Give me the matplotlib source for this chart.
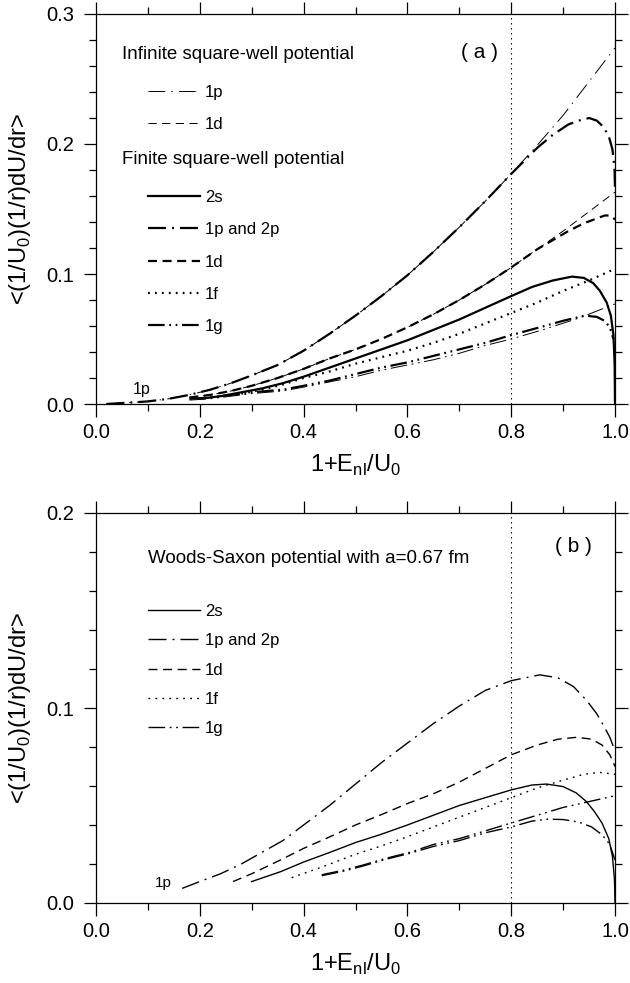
## two panels: <(1/U0)(1/r)dU/dr> vs 1+E_nl/U0 for square-well and Woods-Saxon potentials

import matplotlib
matplotlib.use('Agg')
import matplotlib.pyplot as plt
from matplotlib.ticker import MultipleLocator, FormatStrFormatter

plt.rcParams['font.family'] = ['Liberation Sans', 'DejaVu Sans']
plt.rcParams['mathtext.fontset'] = 'custom'
plt.rcParams['mathtext.rm'] = 'Liberation Sans'
plt.rcParams['lines.scale_dashes'] = False

# ---- panel (a): infinite square well (thin) ----
inf_1p_x = [0.02, 0.06, 0.10, 0.14, 0.18, 0.22, 0.26, 0.30, 0.35, 0.40, 0.45, 0.50, 0.55, 0.60, 0.65,
	0.70, 0.75, 0.80, 0.85, 0.90, 0.95, 1.00]
inf_1p_y = [0.0, 0.001, 0.002, 0.004, 0.007, 0.011, 0.016, 0.022, 0.030, 0.041, 0.054, 0.068, 0.083,
	0.099, 0.117, 0.136, 0.156, 0.177, 0.199, 0.222, 0.248, 0.274]
inf_1d_x = [0.18, 0.22, 0.26, 0.30, 0.35, 0.40, 0.45, 0.50, 0.55, 0.60, 0.65, 0.70, 0.75, 0.80, 0.85,
	0.90, 0.95, 1.00]
inf_1d_y = [0.005, 0.007, 0.010, 0.014, 0.020, 0.027, 0.035, 0.042, 0.050, 0.059, 0.069, 0.080, 0.092,
	0.105, 0.119, 0.133, 0.148, 0.163]
inf_1g_x = [0.18, 0.22, 0.26, 0.30, 0.36, 0.40, 0.45, 0.50, 0.55, 0.60, 0.65, 0.70, 0.75, 0.80, 0.86,
	0.93, 1.00]
inf_1g_y = [0.003, 0.004, 0.006, 0.008, 0.010, 0.013, 0.017, 0.021, 0.026, 0.030, 0.034, 0.039, 0.045,
	0.050, 0.057, 0.066, 0.077]

# ---- panel (a): finite square well (thick) ----
fin_2s_x = [0.20, 0.24, 0.28, 0.32, 0.36, 0.40, 0.45, 0.50, 0.55, 0.60, 0.65, 0.70, 0.75, 0.80, 0.84,
	0.88, 0.917, 0.94, 0.958, 0.971, 0.984, 0.992, 0.997, 0.9993, 1.0]
fin_2s_y = [0.004, 0.006, 0.009, 0.012, 0.016, 0.021, 0.028, 0.035, 0.042, 0.049, 0.057, 0.065, 0.074,
	0.083, 0.090, 0.095, 0.098, 0.097, 0.093, 0.087, 0.078, 0.068, 0.053, 0.03, 0.0]
fin_1p_x = [0.02, 0.06, 0.10, 0.14, 0.18, 0.22, 0.26, 0.30, 0.35, 0.40, 0.45, 0.50, 0.55, 0.60, 0.65,
	0.70, 0.75, 0.80, 0.85, 0.88, 0.91, 0.93, 0.95, 0.965, 0.978, 0.988, 0.995, 0.999, 1.0]
fin_1p_y = [0.0, 0.001, 0.002, 0.004, 0.007, 0.011, 0.016, 0.022, 0.030, 0.041, 0.054, 0.068, 0.083,
	0.099, 0.117, 0.136, 0.156, 0.177, 0.197, 0.207, 0.215, 0.218, 0.220, 0.218, 0.213, 0.206, 0.196,
	0.182, 0.165]
fin_1d_x = [0.18, 0.22, 0.26, 0.30, 0.35, 0.40, 0.45, 0.50, 0.55, 0.60, 0.65, 0.70, 0.75, 0.80, 0.85,
	0.88, 0.91, 0.94, 0.96, 0.98, 0.99, 1.0]
fin_1d_y = [0.005, 0.007, 0.010, 0.014, 0.020, 0.027, 0.035, 0.042, 0.050, 0.059, 0.069, 0.080, 0.092,
	0.105, 0.119, 0.126, 0.133, 0.139, 0.142, 0.145, 0.145, 0.142]
fin_1f_x = [0.28, 0.32, 0.36, 0.40, 0.45, 0.50, 0.55, 0.60, 0.65, 0.70, 0.75, 0.80, 0.85, 0.90, 0.95, 1.00]
fin_1f_y = [0.008, 0.011, 0.015, 0.020, 0.025, 0.031, 0.036, 0.041, 0.047, 0.054, 0.062, 0.070, 0.078,
	0.087, 0.095, 0.104]
fin_1g_x = [0.18, 0.22, 0.26, 0.30, 0.36, 0.40, 0.45, 0.50, 0.55, 0.60, 0.65, 0.70, 0.75, 0.80, 0.855,
	0.90, 0.942, 0.965, 0.98, 0.99, 0.997]
fin_1g_y = [0.004, 0.005, 0.007, 0.009, 0.011, 0.014, 0.018, 0.023, 0.028, 0.032, 0.037, 0.042, 0.047,
	0.053, 0.059, 0.064, 0.068, 0.067, 0.064, 0.059, 0.050]

# ---- panel (b): Woods-Saxon a=0.67 fm ----
ws_2s_x = [0.30, 0.355, 0.40, 0.451, 0.50, 0.547, 0.60, 0.65, 0.70, 0.75, 0.80, 0.84, 0.868, 0.90,
	0.925, 0.945, 0.96, 0.975, 0.988, 0.995, 0.999, 1.0]
ws_2s_y = [0.011, 0.016, 0.021, 0.026, 0.031, 0.035, 0.040, 0.045, 0.050, 0.054, 0.058, 0.0605, 0.061,
	0.0597, 0.0565, 0.052, 0.047, 0.041, 0.033, 0.024, 0.012, 0.0]
ws_1p_x = [0.166, 0.20, 0.24, 0.28, 0.32, 0.36, 0.40, 0.45, 0.50, 0.55, 0.60, 0.65, 0.70, 0.75, 0.80,
	0.855, 0.89, 0.92, 0.945, 0.965, 0.98, 0.99, 1.0]
ws_1p_y = [0.0075, 0.011, 0.015, 0.020, 0.026, 0.032, 0.040, 0.050, 0.061, 0.072, 0.082, 0.092, 0.101,
	0.109, 0.114, 0.117, 0.1155, 0.111, 0.104, 0.097, 0.090, 0.085, 0.078]
ws_1d_x = [0.264, 0.30, 0.355, 0.40, 0.451, 0.50, 0.547, 0.60, 0.65, 0.70, 0.75, 0.80, 0.85, 0.89,
	0.927, 0.955, 0.975, 0.99, 1.0]
ws_1d_y = [0.011, 0.015, 0.022, 0.028, 0.034, 0.040, 0.045, 0.051, 0.056, 0.062, 0.069, 0.076, 0.081,
	0.084, 0.085, 0.084, 0.081, 0.076, 0.070]
ws_1f_x = [0.377, 0.42, 0.451, 0.50, 0.547, 0.60, 0.65, 0.70, 0.75, 0.80, 0.85, 0.90, 0.94, 0.97, 1.0]
ws_1f_y = [0.013, 0.017, 0.020, 0.025, 0.029, 0.034, 0.039, 0.044, 0.049, 0.054, 0.059, 0.063, 0.066,
	0.067, 0.066]
ws_1g_up_x = [0.435, 0.48, 0.515, 0.56, 0.605, 0.65, 0.70, 0.75, 0.80, 0.85, 0.90, 0.95, 1.0]
ws_1g_up_y = [0.0145, 0.017, 0.0195, 0.023, 0.026, 0.030, 0.033, 0.037, 0.041, 0.045, 0.049, 0.052, 0.055]
ws_1g_lo_x = [0.435, 0.48, 0.515, 0.56, 0.605, 0.65, 0.70, 0.75, 0.80, 0.84, 0.87, 0.90, 0.93, 0.955,
	0.975, 0.99, 1.0]
ws_1g_lo_y = [0.014, 0.0165, 0.019, 0.0225, 0.0255, 0.029, 0.032, 0.036, 0.039, 0.042, 0.043, 0.0428,
	0.0415, 0.039, 0.035, 0.030, 0.022]

E_mark = 0.8

# line styles
DASHDOT = (0, (13, 4.3, 1.4, 4.3))
THIN_DASHDOT = (0, (12, 4.5, 1.0, 4.5))
DASHDOTDOT = (0, (12, 3.3, 1.3, 3.3, 1.3, 3.3))
DASHED = (0, (6.5, 4))
DOTTED = (0, (1.3, 3.7))

THICK = 1.6
THIN = 0.7
MID = 1.0

XLABEL = r'1+E$_{\mathregular{nl}}$/U$_{\mathregular{0}}$'
YLABEL = r'<(1/U$_{\mathregular{0}}$)(1/r)dU/dr>'

LEG = dict(loc='upper left', frameon=False, fontsize=12, handlelength=3.12, handletextpad=0.3,
	borderpad=0, borderaxespad=0)


def style_axis(ax, ymax):
	ax.set_xlim(0, 1)
	ax.set_ylim(0, ymax)
	ax.xaxis.set_major_locator(MultipleLocator(0.2))
	ax.xaxis.set_minor_locator(MultipleLocator(0.1))
	ax.yaxis.set_major_locator(MultipleLocator(0.1))
	ax.yaxis.set_minor_locator(MultipleLocator(0.02))
	ax.xaxis.set_major_formatter(FormatStrFormatter('%.1f'))
	ax.yaxis.set_major_formatter(FormatStrFormatter('%.1f'))
	ax.tick_params(which='both', direction='out', top=True, right=True, width=0.9)
	ax.tick_params(which='major', length=9, labelsize=14.5)
	ax.tick_params(which='minor', length=5)
	ax.tick_params(axis='x', pad=4.5)
	ax.tick_params(axis='y', pad=7)
	for s in ax.spines.values():
		s.set_linewidth(0.9)
	ax.axvline(E_mark, color='k', lw=0.8, ls=(0, (1, 2.6)))
	ax.set_xlabel(XLABEL, fontsize=17)
	ax.set_ylabel(YLABEL, fontsize=17)
	ax.xaxis.set_label_coords(0.5, -0.125)
	ax.yaxis.set_label_coords(-0.122, 0.5)


fig = plt.figure(figsize=(6.3, 9.83), dpi=100)
ax1 = fig.add_axes([96/630, 579/983, 519/630, 390/983])
ax2 = fig.add_axes([96/630, 80/983, 519/630, 390/983])

##=========== panel (a) ===========
style_axis(ax1, 0.3)

h_inf1p, = ax1.plot(inf_1p_x, inf_1p_y, 'k', lw=THIN, ls=THIN_DASHDOT, label='1p')
h_inf1d, = ax1.plot(inf_1d_x, inf_1d_y, 'k', lw=THIN, ls=(0, (6, 3.8)), label='1d')
ax1.plot(inf_1g_x, inf_1g_y, 'k', lw=THIN, ls=DASHDOTDOT)

h2s, = ax1.plot(fin_2s_x, fin_2s_y, 'k', lw=THICK, ls='-', label='2s')
h1p, = ax1.plot(fin_1p_x, fin_1p_y, 'k', lw=THICK, ls=DASHDOT, label='1p and 2p')
h1d, = ax1.plot(fin_1d_x, fin_1d_y, 'k', lw=THICK, ls=DASHED, label='1d')
h1f, = ax1.plot(fin_1f_x, fin_1f_y, 'k', lw=THICK, ls=DOTTED, label='1f')
h1g, = ax1.plot(fin_1g_x, fin_1g_y, 'k', lw=THICK, ls=DASHDOTDOT, label='1g')

ax1.text(0.05, 0.897, 'Infinite square-well potential', transform=ax1.transAxes,
	fontsize=13.5, va='center', ha='left')
ax1.text(0.05, 0.628, 'Finite square-well potential', transform=ax1.transAxes,
	fontsize=13.5, va='center', ha='left')
ax1.text(0.738, 0.9, '( a )', transform=ax1.transAxes, fontsize=15, va='center', ha='center')
ax1.text(0.071, 0.011, '1p', fontsize=11.5, va='center', ha='left')

leg_inf = ax1.legend(handles=[h_inf1p, h_inf1d], bbox_to_anchor=(0.1002, 0.818), labelspacing=1.04, **LEG)
ax1.add_artist(leg_inf)
ax1.legend(handles=[h2s, h1p, h1d, h1f, h1g], bbox_to_anchor=(0.1002, 0.549), labelspacing=1.04, **LEG)

##=========== panel (b) ===========
style_axis(ax2, 0.2)

w2s, = ax2.plot(ws_2s_x, ws_2s_y, 'k', lw=MID, ls='-', label='2s')
w1p, = ax2.plot(ws_1p_x, ws_1p_y, 'k', lw=MID, ls=DASHDOT, label='1p and 2p')
w1d, = ax2.plot(ws_1d_x, ws_1d_y, 'k', lw=MID, ls=DASHED, label='1d')
w1f, = ax2.plot(ws_1f_x, ws_1f_y, 'k', lw=MID, ls=DOTTED, label='1f')
w1g, = ax2.plot(ws_1g_up_x, ws_1g_up_y, 'k', lw=MID, ls=DASHDOTDOT, label='1g')
ax2.plot(ws_1g_lo_x, ws_1g_lo_y, 'k', lw=MID, ls=DASHDOTDOT)

ax2.text(0.1002, 0.883, 'Woods-Saxon potential with a=0.67 fm', transform=ax2.transAxes,
	fontsize=13.5, va='center', ha='left')
ax2.text(0.919, 0.913, '( b )', transform=ax2.transAxes, fontsize=15, va='center', ha='center')
ax2.text(0.114, 0.0103, '1p', fontsize=11, va='center', ha='left')

ax2.legend(handles=[w2s, w1p, w1d, w1f, w1g], bbox_to_anchor=(0.1002, 0.767), labelspacing=0.86, **LEG)

plt.savefig('out.png', dpi=100)
